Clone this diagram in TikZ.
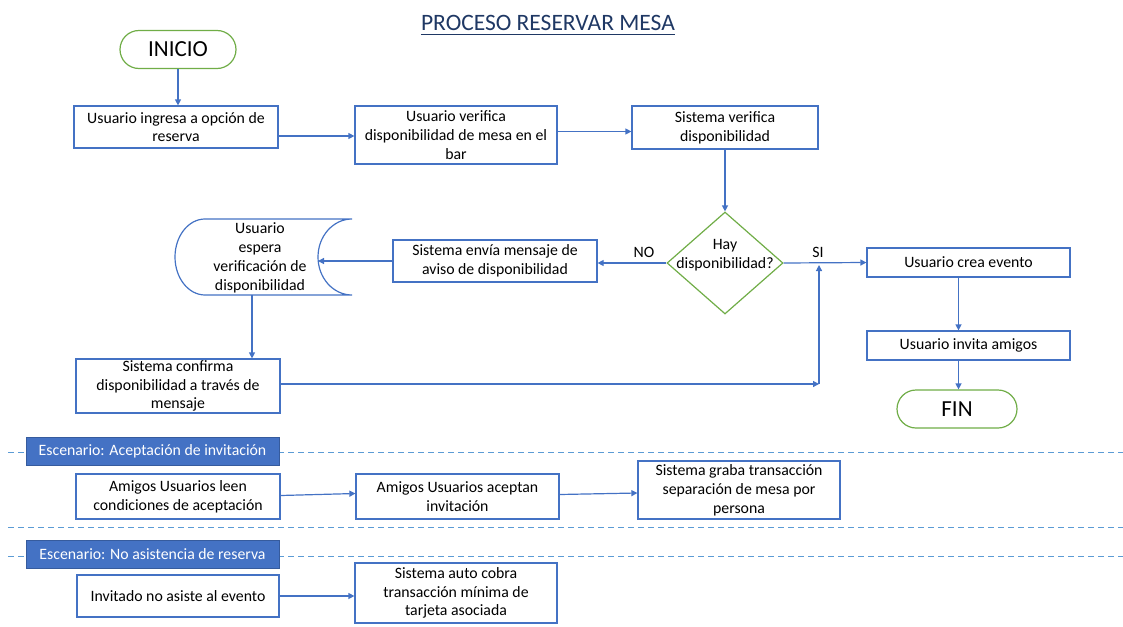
\documentclass[tikz,border=0pt]{standalone}
\usepackage{fontspec}
\setmainfont{Carlito}
\usetikzlibrary{arrows.meta,shapes.geometric,calc}

\definecolor{boxblue}{HTML}{4472C4}
\definecolor{okgreen}{HTML}{70AD47}
\definecolor{titleblue}{HTML}{1F3864}
\definecolor{dashblue}{HTML}{5B9BD5}

\tikzset{
  txt/.style={font=\fontsize{15.8}{18.8}\selectfont, align=center, text=black},
  proc/.style={txt, draw=boxblue, line width=1.2pt, fill=white, inner sep=0pt},
  term/.style={draw=okgreen, line width=1.2pt, fill=white, inner sep=0pt,
    font=\fontsize{23}{27}\selectfont, minimum width=116pt, minimum height=38pt,
    rounded corners=19pt},
  banner/.style={fill=boxblue, draw=boxblue!80!black, line width=0.6pt, text=white,
    font=\fontsize{15.8}{18}\selectfont, minimum width=253pt, minimum height=28pt, inner sep=0pt},
  arr/.style={draw=boxblue, line width=1.2pt, -{Triangle[length=6pt,width=6pt]}},
  sepline/.style={draw=dashblue, line width=1pt, dash pattern=on 6pt off 4pt},
}

\begin{document}
\begin{tikzpicture}[x=1pt,y=1pt]
\useasboundingbox (0,0) rectangle (1123,-626);

% title
\node[anchor=base, text=titleblue, font=\fontsize{23.5}{27}\selectfont, inner sep=0pt]
  (title) at (548,-31) {PROCESO RESERVAR MESA};
\draw[titleblue, line width=1pt] ([yshift=-4pt]title.base west) -- ([yshift=-4pt]title.base east);

% scenario separators
\draw[sepline] (8,-452) -- (1123,-452);
\draw[sepline] (8,-527) -- (1123,-527);
\draw[sepline] (8,-556) -- (1123,-556);

% main flow
\node[term] (ini) at (178,-49.5) {INICIO};
\node[proc, minimum width=204pt, minimum height=42pt] (b1) at (176,-127)
  {Usuario ingresa a opción de\\reserva};
\node[proc, minimum width=202pt, minimum height=58pt] (b2) at (456,-135)
  {Usuario verifica\\disponibilidad de mesa en el\\bar};
\node[proc, minimum width=186pt, minimum height=43pt] (b3) at (725,-127.5)
  {Sistema verifica\\disponibilidad};

\node[diamond, draw=okgreen, line width=1.2pt, fill=white, inner sep=0pt,
  minimum width=116pt, minimum height=102pt] (dec) at (725,-263) {};
\node[txt] (dectxt) at (725,-255) {Hay\\disponibilidad?};
\node[txt, anchor=base] (nolbl) at (644,-257) {NO};
\node[txt, anchor=base] (silbl) at (818,-257) {SI};

\node[proc, minimum width=204pt, minimum height=42pt] (aviso) at (495,-261)
  {Sistema envía mensaje de\\aviso de disponibilidad};

% stored-data shape for the waiting step
\draw[boxblue, line width=1.2pt, fill=white]
  (352,-219) -- (205,-219)
  arc[start angle=90, end angle=270, x radius=30pt, y radius=38pt]
  -- (352,-295)
  arc[start angle=270, end angle=90, x radius=34pt, y radius=38pt];
\node[txt] (espera) at (260,-258) {Usuario\\espera\\verificación de\\disponibilidad};
\coordinate (esperaIn) at (318,-261);
\coordinate (esperaOut) at (252,-295);

\node[proc, minimum width=204pt, minimum height=54pt] (conf) at (178,-386)
  {Sistema confirma\\disponibilidad a través de\\mensaje};
\coordinate (joinpt) at (819,-384);

\node[proc, minimum width=203pt, minimum height=29pt] (crea) at (968.5,-262.5)
  {Usuario crea evento};
\node[proc, minimum width=203pt, minimum height=29pt] (invita) at (968.5,-345.5)
  {Usuario invita amigos};
\node[term, minimum width=120pt] (fin) at (957,-409) {FIN};

% main flow connectors
\draw[arr] (ini.south) -- (ini.south |- b1.north);
\draw[arr] ([yshift=-9pt]b1.east) -- ([yshift=-9pt]b1.east -| b2.west);
\draw[arr] ([yshift=-4pt]b3.west -| b2.east) -- ([yshift=-4pt]b3.west);
\draw[arr] (b3.south) -- (dec.north);
\draw[arr] (dec.west) -- (dec.west -| aviso.east);
\draw[arr] (aviso.west) -- (esperaIn);
\draw[arr] (esperaOut) -- (esperaOut |- conf.north);
\draw[arr] (conf.east |- joinpt) -- (joinpt);
\draw[arr] (joinpt) -- ([yshift=-2pt]joinpt |- dec.east);
\draw[arr] (dec.east) -- (crea.west);
\draw[arr] ([xshift=-10pt]crea.south) -- ([xshift=-10pt]invita.north);
\draw[arr] ([xshift=-10pt]invita.south) -- ([xshift=-10pt]invita.south |- fin.north);

% scenario: invitation acceptance
\node[banner] (ban1) at (152.5,-451) {Escenario: Aceptación de invitación};
\node[proc, minimum width=204pt, minimum height=45pt] (leen) at (178,-496.5)
  {Amigos Usuarios leen\\condiciones de aceptación};
\node[proc, minimum width=203pt, minimum height=45pt] (acept) at (457.5,-496.5)
  {Amigos Usuarios aceptan\\invitación};
\node[proc, minimum width=202pt, minimum height=58pt] (graba) at (739,-490)
  {Sistema graba transacción\\separación de mesa por\\persona};
\draw[arr] ([yshift=1pt]leen.east) -- ([yshift=3pt]acept.west);
\draw[arr] ([yshift=2pt]acept.east) -- ([yshift=-3pt]graba.west);

% scenario: no-show
\node[banner] (ban2) at (152.5,-554) {Escenario: No asistencia de reserva};
\node[proc, minimum width=202pt, minimum height=42pt] (invit) at (178,-596)
  {Invitado no asiste al evento};
\node[proc, minimum width=202pt, minimum height=60pt] (cobra) at (456,-593)
  {Sistema auto cobra\\transacción mínima de\\tarjeta asociada};
\draw[arr] (invit.east) -- (invit.east -| cobra.west);
\end{tikzpicture}
\end{document}
